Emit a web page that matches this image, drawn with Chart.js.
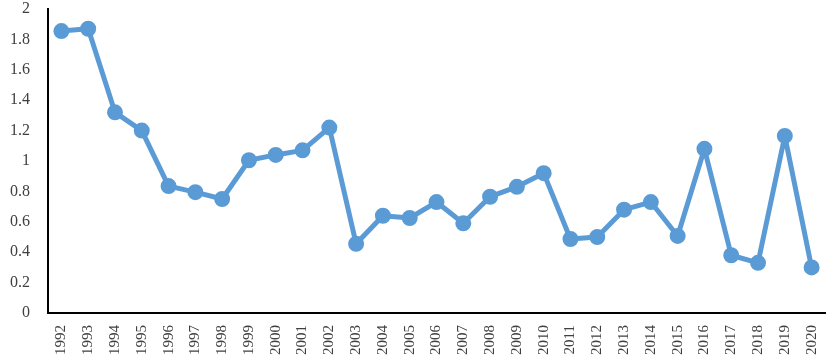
<!DOCTYPE html>
<html>
<head>
<meta charset="utf-8">
<script src="https://cdn.jsdelivr.net/npm/chart.js@4/dist/chart.umd.min.js"></script>
<style>
html,body{margin:0;padding:0;background:#fff;}
#wrap{width:829px;height:363px;}
</style>
</head>
<body>
<div id="wrap"><canvas id="c" width="829" height="363"></canvas></div>
<script>
const years = ["1992","1993","1994","1995","1996","1997","1998","1999","2000","2001","2002","2003","2004","2005","2006","2007","2008","2009","2010","2011","2012","2013","2014","2015","2016","2017","2018","2019","2020"];
const values = [1.855,1.87,1.32,1.2,0.835,0.795,0.75,1.005,1.04,1.07,1.22,0.455,0.64,0.625,0.73,0.59,0.765,0.83,0.92,0.487,0.5,0.68,0.73,0.507,1.08,0.38,0.33,1.165,0.3];
const yTicks = [0,0.2,0.4,0.6,0.8,1,1.2,1.4,1.6,1.8,2];

new Chart(document.getElementById('c'), {
  type: 'line',
  data: {
    labels: years,
    datasets: [{
      data: values,
      borderColor: '#5B9BD5',
      backgroundColor: '#5B9BD5',
      borderWidth: 5,
      borderJoinStyle: 'round',
      borderCapStyle: 'round',
      pointRadius: 5.5,
      pointHoverRadius: 5.5,
      pointBackgroundColor: '#5B9BD5',
      pointBorderColor: '#5B9BD5',
      tension: 0,
      fill: false,
      clip: false
    }]
  },
  options: {
    responsive: false,
    animation: false,
    layout: { autoPadding: false, padding: { top: 9, right: 4, left: 0, bottom: 0 } },
    plugins: { legend: { display: false }, tooltip: { enabled: false } },
    scales: {
      x: {
        offset: true,
        grid: { display: false },
        border: { display: true, color: '#000', width: 2 },
        ticks: {
          minRotation: 90, maxRotation: 90, autoSkip: false,
          color: '#404040', padding: 4,
          font: { family: 'Liberation Serif', size: 15 }
        },
        afterFit: s => { s.height = 50; s.paddingLeft = 0; s.paddingRight = 0; }
      },
      y: {
        min: 0, max: 2,
        afterBuildTicks: s => { s.ticks = yTicks.map(v => ({ value: v })); },
        grid: { display: false },
        border: { display: true, color: '#000', width: 2 },
        ticks: {
          color: '#404040', padding: 10,
          font: { family: 'Liberation Serif', size: 16 },
          callback: v => String(v)
        },
        afterFit: s => { s.width = 48; s.paddingTop = 0; s.paddingBottom = 0; }
      }
    }
  }
});
</script>
</body>
</html>
